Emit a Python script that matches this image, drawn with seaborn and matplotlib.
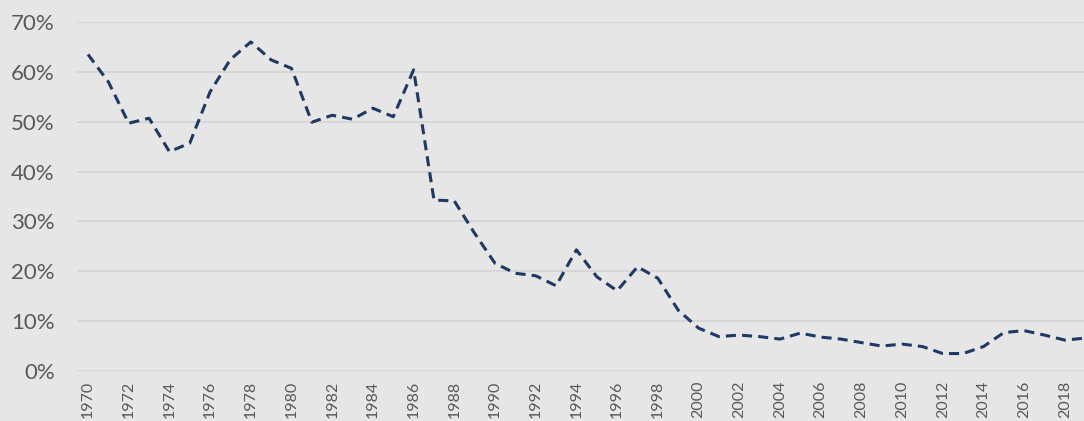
import matplotlib
matplotlib.use("Agg")
import matplotlib.pyplot as plt
import seaborn as sns
from matplotlib.ticker import PercentFormatter, MultipleLocator

years = list(range(1970, 2020))
share = [
    63.5, 58.0, 49.7, 50.7, 44.0, 45.7, 56.0, 62.5, 66.0, 62.4,
    60.7, 49.9, 51.3, 50.5, 52.7, 51.0, 60.4, 34.3, 34.1, 27.6,
    21.6, 19.6, 19.1, 17.1, 24.3, 18.9, 16.1, 20.9, 18.6, 12.2,
    8.6, 6.9, 7.2, 6.9, 6.4, 7.6, 6.8, 6.4, 5.7, 5.0,
    5.4, 4.9, 3.5, 3.5, 4.9, 7.7, 8.1, 7.2, 6.2, 6.6,
]
tick_years = list(range(1970, 2020, 2))

bg = "#e7e6e6"
sns.set_style("whitegrid")
plt.rcParams["font.family"] = ["Lato", "DejaVu Sans"]

fig = plt.figure(figsize=(10.84, 4.21), dpi=100)
fig.patch.set_facecolor(bg)
ax = fig.add_axes([77 / 1084, 50 / 421, 1 - 77 / 1084, 349 / 421])
ax.set_facecolor(bg)

sns.lineplot(x=years, y=share, ax=ax, color="#1f3864", linewidth=2.2,
             linestyle=(0, (3.3, 2.0)))

ax.set_xlim(1969.46, 2018.94)
ax.set_ylim(0, 70)
ax.yaxis.set_major_locator(MultipleLocator(10))
ax.yaxis.set_major_formatter(PercentFormatter(decimals=0))
ax.set_xticks(tick_years)
ax.set_xticklabels([str(y) for y in tick_years], rotation=90)

ax.grid(axis="y", color="#d6d5d5", linewidth=1.3)
ax.grid(axis="x", visible=False)
for s in ax.spines.values():
    s.set_visible(False)
ax.tick_params(axis="y", length=0, labelsize=16, colors="#595959", pad=16)
ax.tick_params(axis="x", length=0, labelsize=11.5, colors="#595959", pad=7)
ax.set_xlabel("")
ax.set_ylabel("")

fig.savefig("out.png", dpi=100, facecolor=bg)
